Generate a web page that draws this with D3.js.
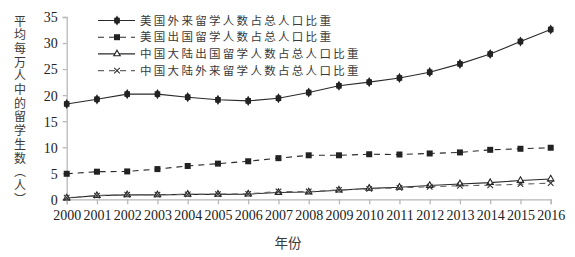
<!DOCTYPE html>
<html><head><meta charset="utf-8">
<script src="https://cdn.jsdelivr.net/npm/d3@7"></script>
<style>body{margin:0;background:#fff}svg{display:block}</style>
</head><body><svg id="c" width="575" height="257"></svg>
<script>
const years = [2000,2001,2002,2003,2004,2005,2006,2007,2008,2009,2010,2011,2012,2013,2014,2015,2016];
const usInbound  = [18.3,19.2,20.2,20.2,19.6,19.1,18.9,19.4,20.5,21.8,22.5,23.3,24.4,26.0,27.9,30.3,32.6];
const usOutbound = [4.9,5.3,5.35,5.8,6.4,6.85,7.3,7.9,8.45,8.45,8.65,8.6,8.8,9.0,9.5,9.7,9.9];
const cnOutbound = [0.25,0.7,0.85,0.85,0.95,0.95,1.0,1.3,1.4,1.75,2.1,2.3,2.65,2.95,3.2,3.6,3.9];
const cnInbound  = [0.3,0.7,0.9,0.9,0.95,1.0,1.05,1.5,1.5,1.8,2.0,2.2,2.4,2.6,2.7,2.9,3.1];
const yTicks = [0,5,10,15,20,25,30,35];
const seriesNames = ["美国外来留学人数占总人口比重","美国出国留学人数占总人口比重","中国大陆出国留学人数占总人口比重","中国大陆外来留学人数占总人口比重"];
const yTitle = "平均每万人中的留学生数（人）";
const xTitle = "年份";

const svg = d3.select("#c");
const x = d3.scaleLinear().domain([2000,2016]).range([66.7,550.7]);
const y = d3.scaleLinear().domain([0,35]).range([199.3,17]);
const axisColor = "#b8b8b8";
const numFont = "'Liberation Serif','DejaVu Serif',serif";
const cjkFont = "'Noto Sans CJK SC','Noto Sans CJK JP',sans-serif";

// axes
const ya = svg.append("g").attr("transform","translate(66.7,0)")
  .call(d3.axisLeft(y).tickValues(yTicks).tickSize(4).tickPadding(5));
const xa = svg.append("g").attr("transform","translate(0,199.3)")
  .call(d3.axisBottom(x).tickValues(years).tickFormat(d3.format("d")).tickSize(5).tickPadding(6));
[ya,xa].forEach(g=>{
  g.attr("font-family",numFont).attr("font-size",14);
  g.selectAll("path,line").attr("stroke",axisColor).attr("stroke-width",1.3);
  g.selectAll("text").attr("fill","#222").style("font-family",numFont).style("font-size","14px");
});
ya.selectAll("text").attr("dy","0.35em");

const series = [
  {vals:usInbound, dash:null, color:"#2a2a2a", marker:"diamond"},
  {vals:usOutbound, dash:"6,5", color:"#2a2a2a", marker:"square"},
  {vals:cnOutbound, dash:null, color:"#2a2a2a", marker:"triangle"},
  {vals:cnInbound, dash:"6,5", color:"#666", marker:"x"}
];
const line = d3.line().x((d,i)=>x(years[i])).y(d=>y(d));

function drawMarker(g, type, cx, cy){
  if(type==="diamond"){
    g.append("path").attr("d",d3.symbol(d3.symbolDiamond2,40)()).attr("transform",`translate(${cx},${cy}) rotate(45)`).attr("fill","#222");
    g.append("path").attr("d",d3.symbol(d3.symbolDiamond,30)()).attr("transform",`translate(${cx},${cy})`).attr("fill","#222");
  } else if(type==="square"){
    g.append("rect").attr("x",cx-3).attr("y",cy-3).attr("width",6).attr("height",6).attr("fill","#222");
  } else if(type==="triangle"){
    g.append("path").attr("d",d3.symbol(d3.symbolTriangle,18)()).attr("transform",`translate(${cx},${cy})`).attr("fill","#fff").attr("stroke","#222").attr("stroke-width",1.1);
  } else {
    g.append("path").attr("d",d3.symbol(d3.symbolX,22)()).attr("transform",`translate(${cx},${cy})`).attr("fill","none").attr("stroke","#333").attr("stroke-width",1.1);
  }
}

series.forEach(s=>{
  svg.append("path").datum(s.vals).attr("d",line).attr("fill","none")
    .attr("stroke",s.color).attr("stroke-width",1.1).attr("stroke-dasharray",s.dash);
});
series.forEach(s=>{
  const g = svg.append("g");
  s.vals.forEach((v,i)=>drawMarker(g,s.marker,x(years[i]),y(v)));
});

// legend
const legY = [20.5,37.2,53.9,70.6];
series.forEach((s,i)=>{
  const g = svg.append("g");
  g.append("line").attr("x1",98).attr("x2",135).attr("y1",legY[i]).attr("y2",legY[i])
    .attr("stroke",s.color).attr("stroke-width",1.1).attr("stroke-dasharray",s.dash);
  drawMarker(g,s.marker,117,legY[i]);
  g.append("text").attr("x",140).attr("y",legY[i]).attr("dy","0.36em")
    .style("font-family",cjkFont).style("font-size","11.5px").style("letter-spacing","2.3px")
    .attr("fill","#3a3a3a").text(seriesNames[i]);
});

// y title vertical (single text, vertical writing mode)
svg.append("text").attr("x",20).attr("y",15)
  .style("writing-mode","vertical-rl").style("text-orientation","upright")
  .style("letter-spacing","1.7px")
  .style("font-family",cjkFont).style("font-size","12px").attr("fill","#3a3a3a").text(yTitle);
svg.append("text").attr("x",288).attr("y",243).attr("dy","0.36em").attr("text-anchor","middle")
  .style("font-family",cjkFont).style("font-size","13.5px").attr("fill","#3a3a3a").text(xTitle);
</script></body></html>
